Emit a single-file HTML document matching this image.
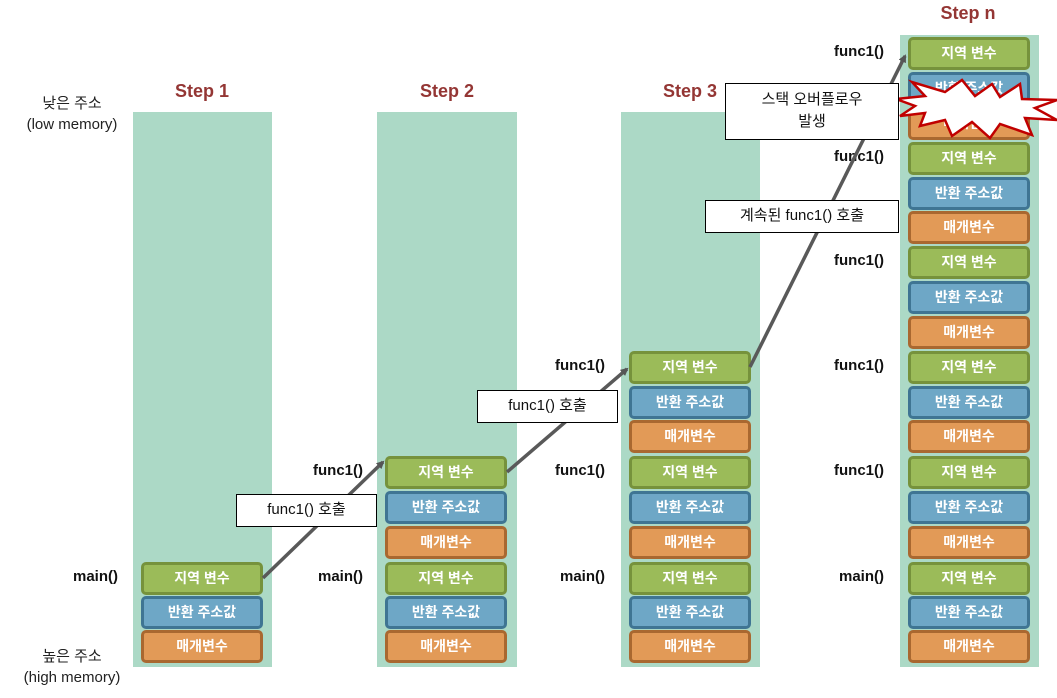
<!DOCTYPE html>
<html><head><meta charset="utf-8"><style>
body{margin:0;width:1057px;height:698px;background:#fff;position:relative;overflow:hidden;font-family:"Liberation Sans","Noto Sans CJK KR",sans-serif}
.col{position:absolute;background:#acd9c6}
.b{position:absolute;width:116px;height:27px;border-radius:5px;border:3px solid;color:#fff;font-weight:bold;font-size:14px;text-align:center;line-height:27px}
.g{background:#9bbb59;border-color:#76923c}
.u{background:#6ea7c6;border-color:#3f7593}
.o{background:#e29a57;border-color:#a96830}
.l{position:absolute;font-weight:bold;font-size:15px;color:#111;text-align:right;width:80px}
.st{position:absolute;font-weight:bold;font-size:18px;color:#943634;width:140px;text-align:center}
.c{position:absolute;background:#fff;border:1.5px solid #000;font-size:15px;text-align:center;color:#111;box-sizing:border-box}
.m{position:absolute;font-size:15px;color:#222;text-align:center;width:140px;line-height:21px}
</style></head><body>
<div class="col" style="left:133px;top:112px;width:139px;height:555px"></div>
<div class="col" style="left:377px;top:112px;width:140px;height:555px"></div>
<div class="col" style="left:621px;top:112px;width:139px;height:555px"></div>
<div class="col" style="left:900px;top:35px;width:139px;height:632px"></div>
<div class="st" style="left:132px;top:81px">Step 1</div>
<div class="st" style="left:377px;top:81px">Step 2</div>
<div class="st" style="left:620px;top:81px">Step 3</div>
<div class="st" style="left:898px;top:3px">Step n</div>
<div class="m" style="left:2px;top:93px">낮은 주소<br>(low memory)</div>
<div class="m" style="left:2px;top:646px">높은 주소<br>(high memory)</div>
<div id="boxes"></div>
<script>
var h='';var t=[['g','지역 변수'],['u','반환 주소값'],['o','매개변수']];
function st(x,cs){cs.forEach(function(c,i){var k=t[i%3];h+='<div class="b '+k[0]+'" style="left:'+x+'px;top:'+(c-16)+'px">'+k[1]+'</div>';});}
st(141,[578,612,646]);
st(385,[472,507,542,578,612,646]);
st(629,[367,402,436,472,507,542,578,612,646]);
st(908,[53,88,123,158,193,227,262,297,332,367,402,436,472,507,542,578,612,646]);
function lb(x,y,s){h+='<div class="l" style="left:'+(x-80)+'px;top:'+(y-10)+'px">'+s+'</div>';}
lb(118,578,'main()');lb(363,578,'main()');lb(363,472,'func1()');
lb(605,578,'main()');lb(605,472,'func1()');lb(605,367,'func1()');
lb(884,578,'main()');[472,367,262,158,53].forEach(function(y){lb(884,y,'func1()');});
document.getElementById('boxes').innerHTML=h;
</script>
<svg style="position:absolute;left:0;top:0" width="1057" height="698">
<defs><marker id="a" markerWidth="8" markerHeight="8" refX="6" refY="4" orient="auto" markerUnits="userSpaceOnUse"><path d="M0,0 L8,4 L0,8z" fill="#555"/></marker></defs>
<g stroke="#595959" stroke-width="3.5" fill="none" marker-end="url(#a)">
<line x1="263" y1="578" x2="383" y2="462"/>
<line x1="507" y1="472" x2="627" y2="369"/>
<line x1="750" y1="367" x2="905" y2="56"/>
</g>
<polygon points="896,99 925,96 912,82 945,92 962,80 975,96 992,84 1000,97 1020,84 1022,99 1057,100 1035,108 1057,120 1025,118 1032,135 1000,124 990,138 972,122 952,136 945,120 920,126 925,113 900,116 915,106" fill="#fff" stroke="#c00000" stroke-width="2.5"/>
</svg>
<div class="c" style="left:236px;top:494px;width:141px;height:33px;line-height:30px">func1() 호출</div>
<div class="c" style="left:477px;top:390px;width:141px;height:33px;line-height:30px">func1() 호출</div>
<div class="c" style="left:705px;top:200px;width:194px;height:33px;line-height:30px">계속된 func1() 호출</div>
<div class="c" style="left:725px;top:83px;width:174px;height:57px;line-height:22px;padding-top:5px">스택 오버플로우<br>발생</div>
</body></html>
